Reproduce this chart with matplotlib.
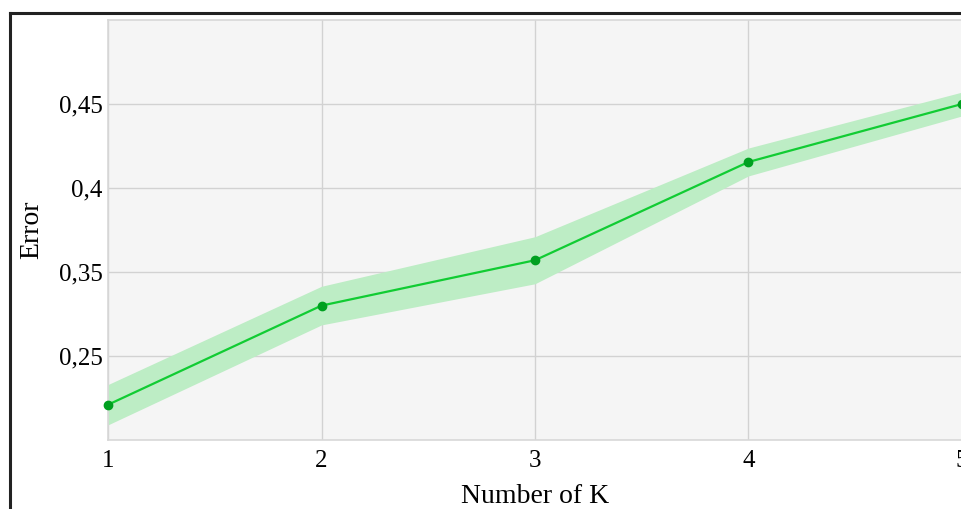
import numpy as np
import matplotlib.pyplot as plt
from matplotlib.lines import Line2D

# data
k = [1, 2, 3, 4, 5]
err = [0.271, 0.330, 0.357, 0.4155, 0.450]
err_sd = [0.012, 0.0115, 0.014, 0.0083, 0.0071]
ytick_pos = [0.30, 0.35, 0.40, 0.45]
ytick_labels = ['0,25', '0,35', '0,4', '0,45']

plt.rcParams['font.family'] = ['Liberation Serif', 'DejaVu Serif']

fig = plt.figure(figsize=(9.62, 5.09), dpi=100)
ax = fig.add_axes([108/962, 1 - 440/509, 854/962, 420/509])
ax.set_facecolor('#f5f5f5')

err = np.array(err)
err_sd = np.array(err_sd)
ax.fill_between(k, err - err_sd, err + err_sd, color='#bdedc5', lw=0, zorder=2)
ax.plot(k, err, color='#11cc33', lw=1.6, zorder=3)
ax.plot(k, err, 'o', color='#00a020', ms=6, zorder=4, clip_on=False)

ax.set_xlim(1, 5)
ax.set_ylim(0.25, 0.50)
ax.set_xticks(k)
ax.set_yticks(ytick_pos)
ax.set_yticklabels(ytick_labels)
ax.tick_params(length=0, labelsize=18, pad=4)
ax.tick_params(axis='x', pad=7)
ax.grid(True, color='#d2d2d2', lw=1, zorder=1)
ax.set_axisbelow(True)
for s in ax.spines.values():
    s.set_color('#d8d8d8')
    s.set_linewidth(1.2)

ax.set_xlabel('Number of K', fontsize=20, labelpad=9)
ax.set_ylabel('Error', fontsize=20, labelpad=10)

# outer frame (cut off at right and bottom)
fig.add_artist(Line2D([9.5/962, 9.5/962], [0, 1 - 12.5/509], color='#222222', lw=2.2, transform=fig.transFigure))
fig.add_artist(Line2D([9.5/962, 1], [1 - 12.5/509, 1 - 12.5/509], color='#222222', lw=2.2, transform=fig.transFigure))

fig.savefig('out.png', dpi=100)
